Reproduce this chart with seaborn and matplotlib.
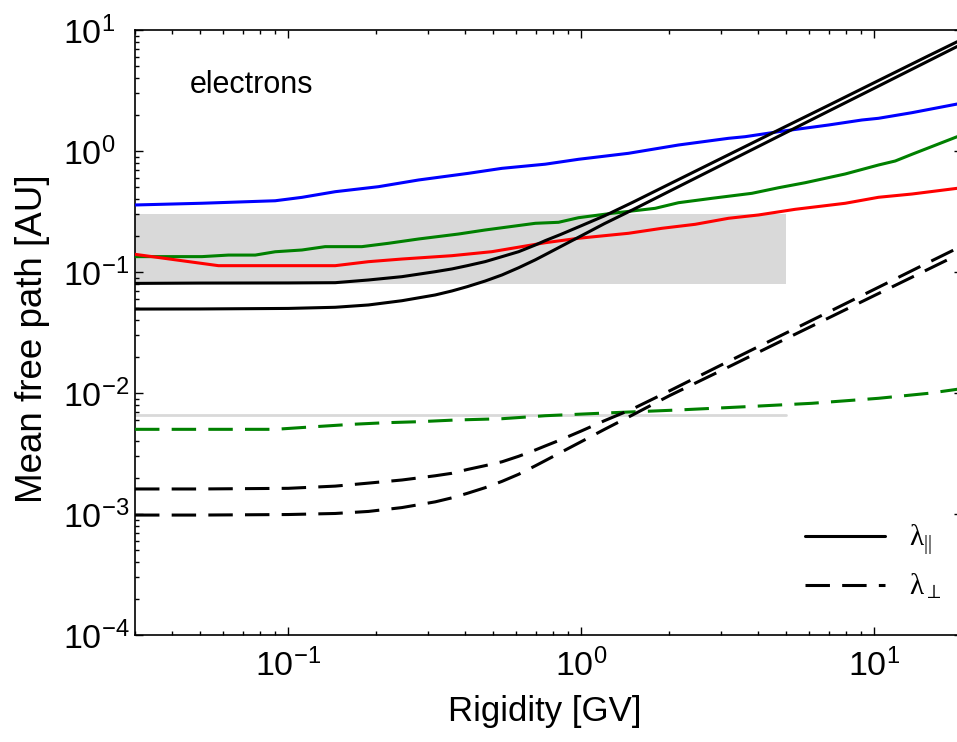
import numpy as np
import matplotlib
matplotlib.use("Agg")
import matplotlib.pyplot as plt
from matplotlib.lines import Line2D
from matplotlib.ticker import LogLocator, NullFormatter
import seaborn as sns

# ---------------- data ----------------
rig_model = [0.03, 0.05, 0.1, 0.1447, 0.1879, 0.2444, 0.3175, 0.362, 0.4079, 0.470, 0.5364, 0.6118,
             0.697, 0.7536, 0.85, 1.0, 1.2, 1.5, 2.0, 3.0, 5.0, 7.0, 10.0, 15.0, 19.2]
lam_par_1 = [0.0805, 0.0810, 0.0812, 0.0816, 0.0859, 0.0915, 0.1006, 0.106, 0.1127, 0.1218, 0.1339, 0.1472,
             0.1671, 0.1816, 0.204, 0.241, 0.291, 0.377, 0.533, 0.867, 1.60, 2.39, 3.67, 5.97, 8.0]
lam_par_2 = [0.0494, 0.0495, 0.0500, 0.0511, 0.0534, 0.0579, 0.0646, 0.0697, 0.0756, 0.0842, 0.0945, 0.1085,
             0.126, 0.139, 0.162, 0.199, 0.251, 0.327, 0.465, 0.762, 1.42, 2.14, 3.30, 5.41, 7.31]
lam_perp_1 = [0.00161, 0.00161, 0.00163, 0.00170, 0.00180, 0.00191, 0.00207, 0.00217, 0.00233, 0.00251, 0.00270, 0.00300,
              0.00338, 0.00365, 0.00410, 0.00485, 0.00590, 0.0074, 0.0104, 0.0170, 0.0313, 0.0468, 0.0718, 0.117, 0.157]
lam_perp_2 = [0.00098, 0.00098, 0.00099, 0.00101, 0.00105, 0.00113, 0.00126, 0.00136, 0.00148, 0.00165, 0.00186, 0.00213,
              0.00250, 0.00276, 0.00322, 0.00396, 0.00500, 0.0066, 0.0095, 0.0153, 0.0281, 0.0418, 0.0638, 0.103, 0.138]

rig_blue = [0.03, 0.0508, 0.0903, 0.1114, 0.1447, 0.2032, 0.2785, 0.4124, 0.5364, 0.7536, 0.979, 1.450, 2.148, 3.182, 3.628, 4.714, 6.983, 9.08, 10.34, 13.45, 19.2]
lam_blue = [0.358, 0.370, 0.388, 0.414, 0.461, 0.507, 0.576, 0.654, 0.719, 0.778, 0.854, 0.957, 1.121, 1.273, 1.313, 1.444, 1.640, 1.804, 1.863, 2.073, 2.445]

rig_green = [0.03, 0.0508, 0.0625, 0.0772, 0.0903, 0.1114, 0.1337, 0.1784, 0.220, 0.2785, 0.3813, 0.470, 0.697, 0.837, 0.979, 1.273, 1.789, 2.148, 2.793, 3.825, 4.714, 5.814, 7.96, 10.34, 11.80, 13.45, 19.2]
lam_green = [0.134, 0.134, 0.138, 0.138, 0.147, 0.152, 0.162, 0.162, 0.1727, 0.1874, 0.206, 0.2224, 0.2526, 0.2575, 0.281, 0.3055, 0.336, 0.3738, 0.4064, 0.447, 0.497, 0.547, 0.6457, 0.766, 0.827, 0.939, 1.313]

rig_red = [0.03, 0.0578, 0.1447, 0.1879, 0.2444, 0.3620, 0.4956, 0.7536, 0.979, 1.450, 1.886, 2.449, 3.182, 4.029, 5.375, 7.96, 10.34, 13.45, 19.2]
lam_red = [0.140, 0.1128, 0.1128, 0.1217, 0.128, 0.1364, 0.1472, 0.1746, 0.190, 0.2089, 0.2297, 0.2478, 0.2779, 0.296, 0.3297, 0.3697, 0.4144, 0.441, 0.4916]

rig_green_perp = [0.03, 0.0903, 0.1237, 0.165, 0.2143, 0.2785, 0.3715, 0.5364, 0.7536, 1.273, 2.148, 3.628, 6.13, 10.34, 15.32, 19.2]
lam_green_perp = [0.00501, 0.00501, 0.00527, 0.00551, 0.00568, 0.00579, 0.00598, 0.00613, 0.00649, 0.00687, 0.00724, 0.0077, 0.00822, 0.00904, 0.00994, 0.01073]

band_rig = [0.03, 5.0]
band_lam = [0.08, 0.3]
perp_obs_rig = [0.03, 5.0]
perp_obs_lam = [0.0066, 0.0066]

x_limits = (0.03, 20.0)
y_limits = (1e-4, 10.0)

# ---------------- style ----------------
sns.set_style("ticks")
plt.rcParams["font.family"] = ["Liberation Sans", "DejaVu Sans"]
plt.rcParams["mathtext.fontset"] = "custom"
plt.rcParams["mathtext.rm"] = "Liberation Sans"
plt.rcParams["mathtext.it"] = "Liberation Serif:italic"
plt.rcParams["mathtext.bf"] = "Liberation Sans:bold"
plt.rcParams["mathtext.default"] = "regular"
for k in ("text.color", "axes.labelcolor", "xtick.color", "ytick.color", "axes.edgecolor"):
    plt.rcParams[k] = "black"

W, H = 957, 742
fig = plt.figure(figsize=(W / 100, H / 100), dpi=100)
ax_left, ax_right, ax_top, ax_bottom = 135, 962.4, 30, 635
ax = fig.add_axes([ax_left / W, 1 - ax_bottom / H, (ax_right - ax_left) / W, (ax_bottom - ax_top) / H])

LW = 2.2
dash = (0, (8, 4))
# grey observational band and line
ax.fill_between(band_rig, [band_lam[0]] * 2, [band_lam[1]] * 2, color="#d9d9d9", lw=0, zorder=0)
sns.lineplot(x=perp_obs_rig, y=perp_obs_lam, ax=ax, color="#d9d9d9", lw=2.0, zorder=1)

sns.lineplot(x=rig_blue, y=lam_blue, ax=ax, color="#0000ff", lw=LW, sort=False, estimator=None, zorder=3)
sns.lineplot(x=rig_green, y=lam_green, ax=ax, color="#008000", lw=LW, sort=False, estimator=None, zorder=3)
sns.lineplot(x=rig_red, y=lam_red, ax=ax, color="#ff0000", lw=LW, sort=False, estimator=None, zorder=3)
sns.lineplot(x=rig_green_perp, y=lam_green_perp, ax=ax, color="#008000", lw=LW, linestyle=dash,
             sort=False, estimator=None, zorder=3)
for lam in (lam_par_1, lam_par_2):
    sns.lineplot(x=rig_model, y=lam, ax=ax, color="black", lw=LW, sort=False, estimator=None, zorder=4)
for lam in (lam_perp_1, lam_perp_2):
    sns.lineplot(x=rig_model, y=lam, ax=ax, color="black", lw=LW, linestyle=dash,
                 sort=False, estimator=None, zorder=4)

ax.set_xscale("log")
ax.set_yscale("log")
ax.set_xlim(*x_limits)
ax.set_ylim(*y_limits)

ax.xaxis.set_major_locator(LogLocator(base=10, numticks=20))
ax.yaxis.set_major_locator(LogLocator(base=10, numticks=20))
ax.xaxis.set_minor_locator(LogLocator(base=10, subs=np.arange(2, 10), numticks=50))
ax.yaxis.set_minor_locator(LogLocator(base=10, subs=np.arange(2, 10), numticks=50))
ax.xaxis.set_minor_formatter(NullFormatter())
ax.yaxis.set_minor_formatter(NullFormatter())

ax.tick_params(which="both", direction="in", top=True, right=True, width=1.0, color="black")
ax.tick_params(which="major", length=6, labelsize=24.5)
ax.tick_params(which="minor", length=3)
ax.tick_params(axis="x", which="major", pad=10)
ax.tick_params(axis="y", which="major", pad=52)
for lab in ax.get_yticklabels():
    lab.set_horizontalalignment("left")
for s in ax.spines.values():
    s.set_linewidth(1.2)
    s.set_color("black")

ax.set_xlabel("Rigidity [GV]", fontsize=25)
ax.set_ylabel("Mean free path [AU]", fontsize=26.5)
ax.xaxis.set_label_coords(0.495, -0.10)
ax.yaxis.set_label_coords(-0.103, 0.49)

ax.text(0.0665, 0.909, "electrons", transform=ax.transAxes, fontsize=22, va="center", ha="left")

handles = [Line2D([], [], color="black", lw=LW),
           Line2D([], [], color="black", lw=LW, linestyle=dash)]
leg = ax.legend(handles, [r"λ$_{||}$", r"λ$_{\perp}$"], loc="center left",
                bbox_to_anchor=((805 - ax_left) / (ax_right - ax_left), (ax_bottom - 562) / (ax_bottom - ax_top)),
                frameon=False, prop={"family": ["Liberation Serif", "DejaVu Serif"], "size": 21},
                handlelength=2.75, handletextpad=0.8,
                labelspacing=0.5, borderpad=0, borderaxespad=0)

fig.savefig("out.png", dpi=100)
